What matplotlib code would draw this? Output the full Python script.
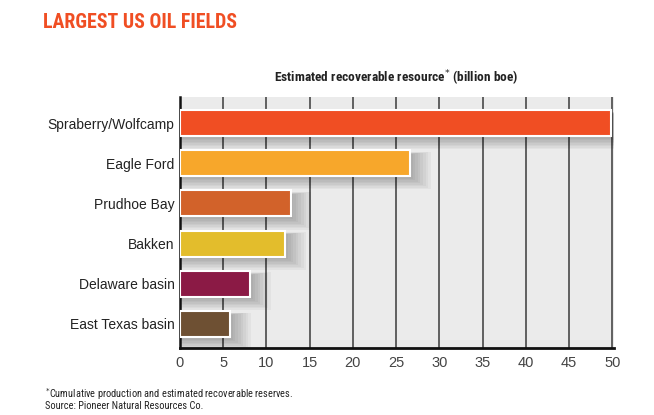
import matplotlib
matplotlib.use("Agg")
import matplotlib.pyplot as plt
from matplotlib import font_manager

fields = ["Spraberry/Wolfcamp", "Eagle Ford", "Prudhoe Bay", "Bakken",
          "Delaware basin", "East Texas basin"]
values = [49.8, 26.6, 12.8, 12.2, 8.1, 5.8]
colors = ["#f04e23", "#f7a72b", "#d2622a", "#e3bd2c", "#8b1a45", "#6e5033"]
xticks = [0, 5, 10, 15, 20, 25, 30, 35, 40, 45, 50]

names = {f.name for f in font_manager.fontManager.ttflist}
cond = "DejaVu Sans"
for cand in ["Roboto Condensed", "Open Sans Condensed", "DejaVu Sans Condensed", "Liberation Sans Narrow"]:
    if cand in names:
        cond = cand
        break
body = "Liberation Sans" if "Liberation Sans" in names else "DejaVu Sans"

fig = plt.figure(figsize=(6.54, 4.15), dpi=100)
ax = fig.add_axes([180/654, 1-348/415, 434/654, 251/415])
ax.set_facecolor("#ebebeb")

y = list(range(len(fields)))
# soft shadows
for k in range(8):
    off = 0.3 + k * 0.3
    ax.barh([i + 0.08 + 0.015*k for i in y], [v + off for v in values], height=0.62 + 0.045*k,
            color="#000000", alpha=0.035, zorder=2, linewidth=0)
ax.barh(y, values, height=0.65, color=colors, edgecolor="white", linewidth=1.5, zorder=3)

ax.set_xlim(0, 50.2)
ax.set_ylim(5.6, -0.65)
ax.set_xticks(xticks)
ax.set_xticklabels([str(t) for t in xticks], fontsize=10.5, color="#444444", family=body)
ax.set_yticks(y)
ax.set_yticklabels(fields, fontsize=10, color="#222222", family=body)
ax.tick_params(axis="both", length=0, pad=4)
ax.tick_params(axis="x", pad=6)
for t in xticks[1:]:
    ax.axvline(t, color="#555555", linewidth=1.3, zorder=1)
for s in ["top", "right"]:
    ax.spines[s].set_visible(False)
ax.spines["left"].set_color("#111111")
ax.spines["left"].set_linewidth(1.8)
ax.spines["bottom"].set_color("#111111")
ax.spines["bottom"].set_linewidth(2.0)

fig.text(43/654, 1-22/415, "LARGEST US OIL FIELDS", color="#f04e23", fontsize=14.3,
         fontweight="bold", family=cond, va="center", ha="left")
fig.text(396/654, 1-78/415, "Estimated recoverable resource$^{*}$ (billion boe)",
         color="#222222", fontsize=9.6, fontweight="bold", family=cond, va="center", ha="center")
fig.text(45/654, 1-394/415, "$^{*}$Cumulative production and estimated recoverable reserves.",
         color="#222222", fontsize=7.5, family=cond, va="center", ha="left")
fig.text(45/654, 1-406/415, "Source: Pioneer Natural Resources Co.",
         color="#222222", fontsize=7.5, family=cond, va="center", ha="left")

fig.savefig("out.png", dpi=100, facecolor="white")
